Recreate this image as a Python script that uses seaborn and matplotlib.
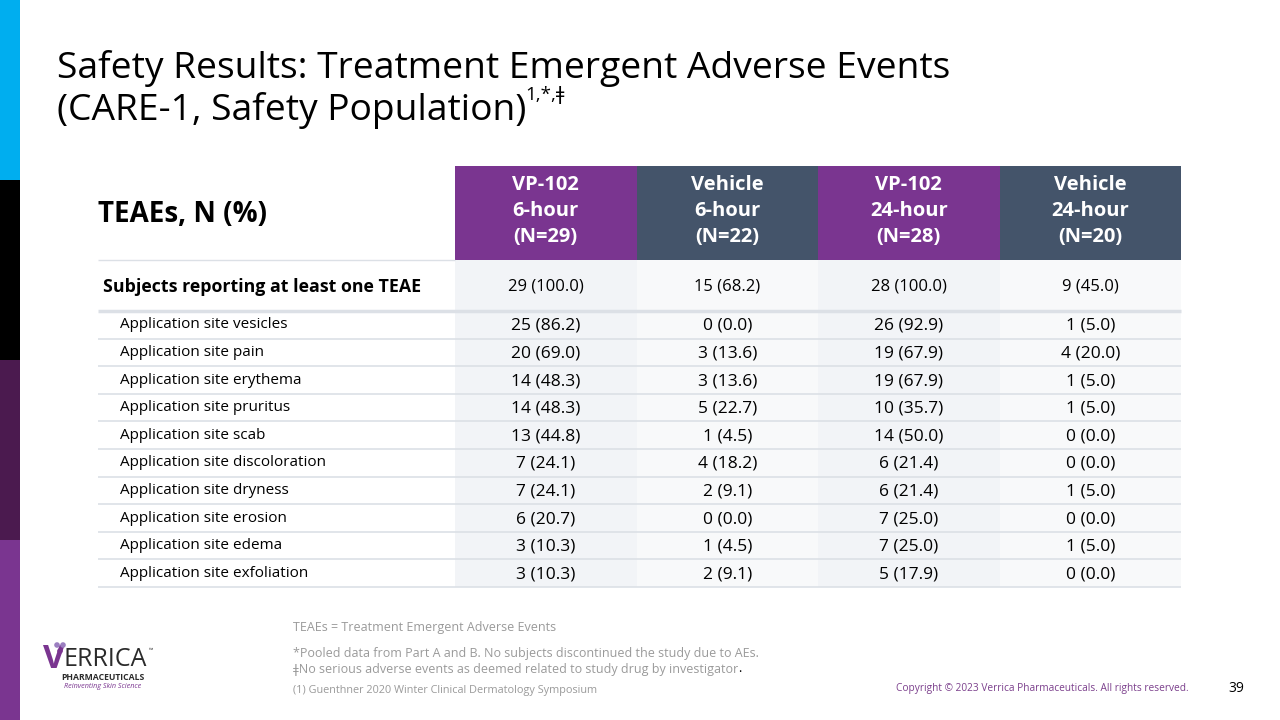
"""
Slide recreation: CARE-1 treatment emergent adverse events table.
"""

import matplotlib
matplotlib.use('Agg')
import matplotlib.pyplot as plt
import seaborn as sns

sns.set_theme(style='white')
FONT = ['Open Sans', 'DejaVu Sans']
plt.rcParams['font.family'] = FONT

PURPLE = '#7A3590'
SLATE = '#44546A'
DARK_PURPLE = '#4B1A4F'
BLUE = '#00AEEF'
GRID = '#DCE0E6'
SHADE = ['#F2F4F7', '#F8F9FA']
GRAY = '#9A9A9A'

# Data
groups = ['VP-102\n6-hour\n(N=29)', 'Vehicle\n6-hour\n(N=22)',
          'VP-102\n24-hour\n(N=28)', 'Vehicle\n24-hour\n(N=20)']
group_colors = [PURPLE, SLATE, PURPLE, SLATE]
total_label = 'Subjects reporting at least one TEAE'
total_values = ['29 (100.0)', '15 (68.2)', '28 (100.0)', '9 (45.0)']
events = ['Application site vesicles', 'Application site pain',
          'Application site erythema', 'Application site pruritus',
          'Application site scab', 'Application site discoloration',
          'Application site dryness', 'Application site erosion',
          'Application site edema', 'Application site exfoliation']
vp102_6h = ['25 (86.2)', '20 (69.0)', '14 (48.3)', '14 (48.3)', '13 (44.8)',
            '7 (24.1)', '7 (24.1)', '6 (20.7)', '3 (10.3)', '3 (10.3)']
vehicle_6h = ['0 (0.0)', '3 (13.6)', '3 (13.6)', '5 (22.7)', '1 (4.5)',
              '4 (18.2)', '2 (9.1)', '0 (0.0)', '1 (4.5)', '2 (9.1)']
vp102_24h = ['26 (92.9)', '19 (67.9)', '19 (67.9)', '10 (35.7)', '14 (50.0)',
             '6 (21.4)', '6 (21.4)', '7 (25.0)', '7 (25.0)', '5 (17.9)']
vehicle_24h = ['1 (5.0)', '4 (20.0)', '1 (5.0)', '1 (5.0)', '0 (0.0)',
               '0 (0.0)', '1 (5.0)', '0 (0.0)', '1 (5.0)', '0 (0.0)']
columns = [vp102_6h, vehicle_6h, vp102_24h, vehicle_24h]

# Layout (pixel space of the 1280x720 slide)
fig = plt.figure(figsize=(12.8, 7.2), dpi=100)
ax = fig.add_axes([0, 0, 1, 1])
ax.set_xlim(0, 1280)
ax.set_ylim(720, 0)
ax.axis('off')

# Left accent strip
strip_colors = [BLUE, 'black', DARK_PURPLE, PURPLE]
ax.bar([10] * 4, [180] * 4, bottom=[0, 180, 360, 540], width=20,
       color=strip_colors, linewidth=0)

# Title
ax.text(57, 78, 'Safety Results: Treatment Emergent Adverse Events',
        fontsize=26.8, color='black', va='baseline')
t2 = ax.text(57, 120, '(CARE-1, Safety Population)', fontsize=26.8,
             color='black', va='baseline')
fig.canvas.draw()
to_data = ax.transData.inverted()
bb = t2.get_window_extent().transformed(to_data)
ax.text(bb.x1 - 1, 100, '1,*,ǂ', fontsize=13.5, color='black', va='baseline')

# Table geometry
label_left, label_right = 98, 455
col_w = 181.5
col_edges = [label_right + i * col_w for i in range(len(groups) + 1)]
head_top, head_bot = 166, 260
total_bot = 311
row_h = 27.6
row_tops = [total_bot + i * row_h for i in range(len(events))]
table_bot = row_tops[-1] + row_h

# Header cells
for i, (g, c) in enumerate(zip(groups, group_colors)):
    ax.bar(col_edges[i], head_bot - head_top, bottom=head_top, width=col_w,
           align='edge', color=c, linewidth=0)
    for j, line in enumerate(g.split('\n')):
        ax.text(col_edges[i] + col_w / 2, 185 + j * 26, line, ha='center',
                va='center', fontsize=14.5, fontweight='bold', color='white')
ax.text(label_left, 214, 'TEAEs, N (%)', fontsize=20, fontweight='bold',
        va='center', color='black')

# Body shading
for i in range(len(groups)):
    ax.bar(col_edges[i], table_bot - head_bot, bottom=head_bot, width=col_w,
           align='edge', color=SHADE[i % 2], linewidth=0)

# Total row
ax.text(103, (head_bot + total_bot) / 2 + 1, total_label, fontsize=12.8,
        fontweight='bold', va='center', color='black')
for i, v in enumerate(total_values):
    ax.text(col_edges[i] + col_w / 2, (head_bot + total_bot) / 2 + 1, v,
            ha='center', va='center', fontsize=12, color='black')

# Event rows
for r, ev in enumerate(events):
    yc = row_tops[r] + row_h / 2
    ax.text(120, yc, ev, fontsize=11, va='center', color='black')
    for i, col in enumerate(columns):
        ax.text(col_edges[i] + col_w / 2, yc + 1, col[r], ha='center',
                va='center', fontsize=12.5, color='black')

# Row separators
ax.hlines(head_bot, label_left, label_right, color=GRID, lw=1)
ax.hlines(total_bot, label_left, col_edges[-1], color=GRID, lw=2.5)
ax.hlines(row_tops[1:] + [table_bot], label_left, col_edges[-1],
          color=GRID, lw=1.2)

# Footnotes
ax.text(293, 628, 'TEAEs = Treatment Emergent Adverse Events',
        fontsize=9, color=GRAY, va='center')
ax.text(293, 653, '*Pooled data from Part A and B. No subjects discontinued '
        'the study due to AEs.', fontsize=9, color=GRAY, va='center')
fn = ax.text(293, 669, 'ǂNo serious adverse events as deemed related to '
             'study drug by investigator', fontsize=9, color=GRAY,
             va='center')
fig.canvas.draw()
fb = fn.get_window_extent().transformed(to_data)
ax.text(fb.x1, 669, '.', fontsize=9, color='black', va='center')
ax.text(293, 691, '(1) Guenthner 2020 Winter Clinical Dermatology Symposium',
        fontsize=7.8, color=GRAY, va='center')

# Logo (text approximation)
ax.text(43, 659, 'V', fontsize=24, color=PURPLE, fontweight='bold',
        va='center')
ax.text(64, 659, 'ERRICA', fontsize=18, color='#2B2B2B', va='center')
ax.text(149, 650, '™', fontsize=4, color='#2B2B2B', va='center')
ax.scatter([57, 63, 60], [645, 645, 651], s=[9, 9, 9],
           color=['#9B7FC0', '#9B7FC0', '#7A3590'], zorder=3)
ax.text(103, 678, 'PHARMACEUTICALS', fontsize=6.2, fontweight='bold',
        color='#2B2B2B', ha='center', va='center')
ax.text(103, 687, 'Reinventing Skin Science', fontsize=5.2, style='italic',
        color=PURPLE, ha='center', va='center')

# Footer
ax.text(1189, 689, 'Copyright © 2023 Verrica Pharmaceuticals. All rights '
        'reserved.', fontsize=7.3, color='#7B3F8C', ha='right', va='center')
ax.text(1236, 688, '39', fontsize=10, color='black', ha='center',
        va='center')

fig.savefig('out.png', dpi=100)
plt.close(fig)
